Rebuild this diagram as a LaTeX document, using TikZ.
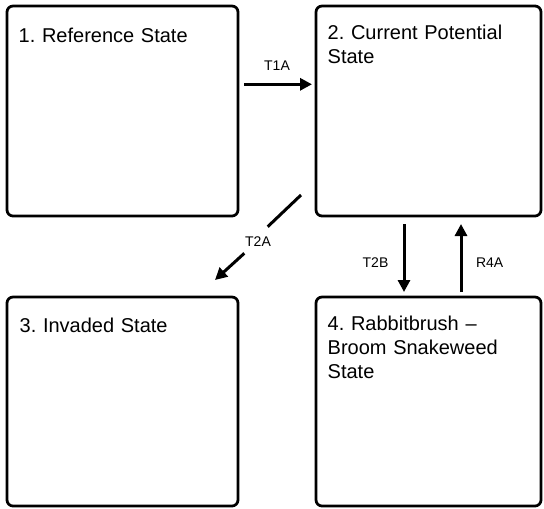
\documentclass[tikz,border=0pt]{standalone}
\usepackage{fontspec}
\setmainfont{Liberation Sans}
\usetikzlibrary{arrows.meta}
\frenchspacing
\begin{document}
\begin{tikzpicture}[x=1pt,y=-1pt,
  statebox/.style={draw=black, line width=2.75pt, rounded corners=6pt, fill=white, inner sep=0pt},
  statetext/.style={anchor=base west, inner sep=0pt, text width=215pt, align=left, font=\fontsize{20}{24}\selectfont\frenchspacing},
  lbl/.style={anchor=base, inner sep=0pt, font=\fontsize{14}{16}\selectfont},
  arr/.style={line width=3pt, -{Triangle[length=12pt,width=12pt]}},
  seg/.style={line width=3pt}]
\useasboundingbox (0,0) rectangle (544,509);
\node[statebox, minimum width=231pt, minimum height=210pt] (b1) at (122.5,111) {};
\node[statebox, minimum width=225pt, minimum height=210pt] (b2) at (428.5,111) {};
\node[statebox, minimum width=231pt, minimum height=209pt] (b3) at (122.5,401.5) {};
\node[statebox, minimum width=225pt, minimum height=209pt] (b4) at (428.5,401.5) {};
\node[statetext] (t1) at (18.5,42) {1. Reference State};
\node[statetext] (t2) at (327.5,39) {2. Current Potential\\State};
\node[statetext] (t3) at (19.5,332) {3. Invaded State};
\node[statetext] (t4) at (327.5,330) {4. Rabbitbrush –\\Broom Snakeweed\\State};
% connectors
\coordinate (p1s) at (244,84.3);
\coordinate (p1e) at (312,84.3);
\draw[arr] (p1s) -- (p1e);
\node[lbl] (l1) at (277,70) {T1A};
\coordinate (p2a) at (301,195);
\coordinate (p2b) at (267.7,226.7);
\coordinate (p2c) at (244.3,253.3);
\coordinate (p2d) at (215,280);
\draw[seg] (p2a) -- (p2b);
\draw[arr] (p2c) -- (p2d);
\node[lbl] (l2) at (258,246.7) {T2A};
\coordinate (p3s) at (404,224);
\coordinate (p3e) at (404,292);
\draw[arr] (p3s) -- (p3e);
\node[lbl] (l3) at (375.5,267.7) {T2B};
\coordinate (p4s) at (461,292);
\coordinate (p4e) at (461,224);
\draw[arr] (p4s) -- (p4e);
\node[lbl] (l4) at (489.7,267.7) {R4A};
\end{tikzpicture}
\end{document}
